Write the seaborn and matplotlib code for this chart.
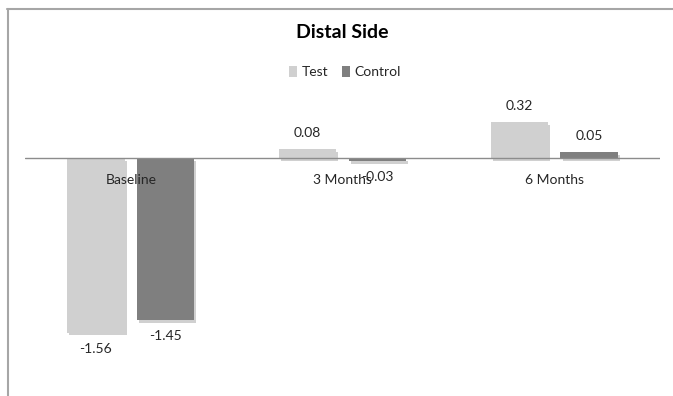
import matplotlib
matplotlib.use("Agg")
import matplotlib.pyplot as plt
import matplotlib.patheffects as pe
from matplotlib.lines import Line2D
from matplotlib.patches import Patch
import seaborn as sns
import pandas as pd

categories = ["Baseline", "3 Months", "6 Months"]
series = ["Test", "Control"]
test_vals = [-1.56, 0.08, 0.32]
control_vals = [-1.45, -0.03, 0.05]
colors = {"Test": "#d0d0d0", "Control": "#7f7f7f"}

df = pd.DataFrame({
    "cat": categories * 2,
    "series": ["Test"] * 3 + ["Control"] * 3,
    "value": test_vals + control_vals,
})

sns.set_theme(style="white")
plt.rcParams["font.family"] = ["Lato", "DejaVu Sans"]

W, H = 673, 396
fig = plt.figure(figsize=(W / 100, H / 100), dpi=100)
# axes in pixel coords: x 25..660, y 100..380 (top..bottom)
ax_top, ax_bot = 100, 380
ax = fig.add_axes([25 / W, 1 - ax_bot / H, 635 / W, (ax_bot - ax_top) / H])
zero_y = 158
ppu = 112.0
ax.set_ylim(-(ax_bot - zero_y) / ppu, (zero_y - ax_top) / ppu)

sns.barplot(data=df, x="cat", y="value", hue="series", order=categories,
            hue_order=series, palette=colors, width=0.66, gap=0.18,
            errorbar=None, ax=ax, legend=False, saturation=1)
ax.set_xlim(-0.5, 2.5)

shadow = [pe.SimplePatchShadow(offset=(1.5, -2), shadow_rgbFace="#666666", alpha=0.3), pe.Normal()]
for p in ax.patches:
    p.set_edgecolor("none")
    p.set_path_effects(shadow)

ax.axhline(0, color="#8c8c8c", lw=1, zorder=5)

# data labels
off = 16 / ppu
for i, p in enumerate(ax.patches):
    h = p.get_height()
    cx = p.get_x() + p.get_width() / 2
    y = h + off if h >= 0 else h - off
    ax.text(cx, y, f"{h:.2f}", ha="center", va="center", fontsize=10, color="#262626")

# category labels next to zero line
for i, c in enumerate(categories):
    ax.text(i, -22 / ppu, c, ha="center", va="center", fontsize=10, color="#262626")

ax.set_xticks([])
ax.set_yticks([])
ax.set_xlabel("")
ax.set_ylabel("")
for s in ax.spines.values():
    s.set_visible(False)

fig.text(342 / W, 1 - 33 / H, "Distal Side", ha="center", va="center",
         fontsize=14, fontweight="bold", color="#000000")

handles = [Patch(facecolor=colors[s], edgecolor="none") for s in series]
fig.legend(handles, series, loc="center", bbox_to_anchor=(345 / W, 1 - 72 / H),
           ncol=2, frameon=False, fontsize=10, handlelength=0.6, handleheight=0.8,
           handletextpad=0.3, columnspacing=1.0)

# chart border
border = "#a6a6a6"
fig.add_artist(Line2D([8 / W, 8 / W], [0, 1 - 9 / H], color=border, lw=1.5, transform=fig.transFigure))
fig.add_artist(Line2D([7 / W, 1], [1 - 9 / H, 1 - 9 / H], color=border, lw=1.5, transform=fig.transFigure))

fig.savefig("out.png", dpi=100)
